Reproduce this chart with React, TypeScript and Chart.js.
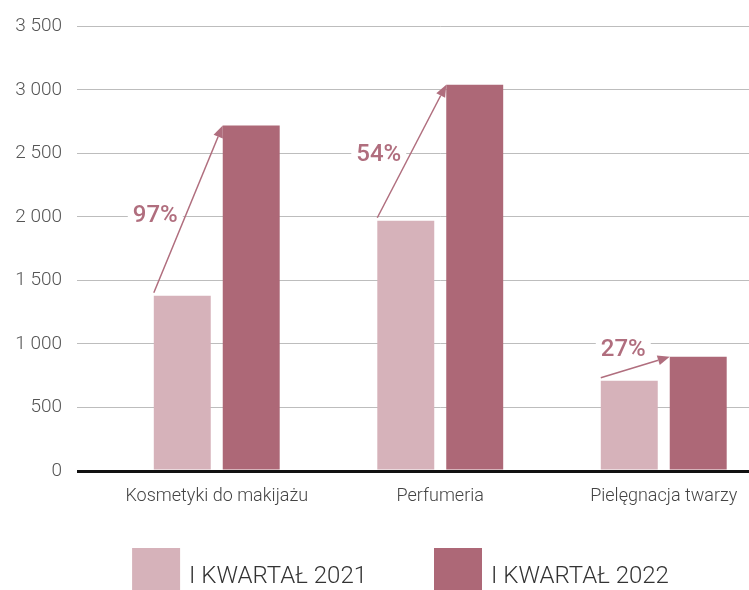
import React, { useEffect, useRef } from 'react';
import { Chart, registerables } from 'chart.js';

Chart.register(...registerables);

const categories = ['Kosmetyki do makijażu', 'Perfumeria', 'Pielęgnacja twarzy'];
const seriesNames = ['I KWARTAŁ 2021', 'I KWARTAŁ 2022'];
const values2021 = [1380, 1970, 710];
const values2022 = [2720, 3040, 900];
const growthLabels = ['97%', '54%', '27%'];
const yMin = 0;
const yMax = 3500;
const yStep = 500;

const LIGHT = '#d6b2ba';
const DARK = '#ad6877';
const ACCENT = '#b06e7e';
const FONT = 'Roboto, "Noto Sans", sans-serif';

const fmt = (v: number) => String(v).replace(/\B(?=(\d{3})+(?!\d))/g, ' ');

// label offsets relative to arrow midpoint (style only)
const labelOffsets = [
  [-33, 7],
  [-33, 4],
  [-12, -17],
];

const arrowPlugin = {
  id: 'growthArrows',
  afterDatasetsDraw(chart: any) {
    const m0 = chart.getDatasetMeta(0);
    const m1 = chart.getDatasetMeta(1);
    const ctx = chart.ctx as CanvasRenderingContext2D;
    ctx.save();
    growthLabels.forEach((lab, i) => {
      const a = m0.data[i];
      const b = m1.data[i];
      if (!a || !b) return;
      const sx = a.x - a.width / 2;
      const sy = a.y - 3;
      const ex = b.x - b.width / 2;
      const ey = b.y;
      const mx = (sx + ex) / 2 + labelOffsets[i][0];
      const my = (sy + ey) / 2 + labelOffsets[i][1];
      ctx.font = `500 24px ${FONT}`;
      const tw = ctx.measureText(lab).width;
      ctx.fillStyle = '#ffffff';
      ctx.fillRect(mx - tw / 2 - 5, my - 13, tw + 10, 26);
      ctx.fillStyle = ACCENT;
      ctx.textAlign = 'center';
      ctx.textBaseline = 'middle';
      ctx.fillText(lab, mx, my);
      const dx = ex - sx;
      const dy = ey - sy;
      const len = Math.sqrt(dx * dx + dy * dy);
      const ux = dx / len;
      const uy = dy / len;
      const headLen = 12;
      const headW = 5;
      const bx = ex - ux * headLen;
      const by = ey - uy * headLen;
      ctx.strokeStyle = ACCENT;
      ctx.lineWidth = 1.5;
      ctx.beginPath();
      ctx.moveTo(sx, sy);
      ctx.lineTo(bx, by);
      ctx.stroke();
      ctx.fillStyle = ACCENT;
      ctx.beginPath();
      ctx.moveTo(ex, ey);
      ctx.lineTo(bx - uy * headW, by + ux * headW);
      ctx.lineTo(bx + uy * headW, by - ux * headW);
      ctx.closePath();
      ctx.fill();
    });
    ctx.restore();
  },
};

// legend drawn from dataset labels/colours
const legendPlugin = {
  id: 'bigLegend',
  afterDraw(chart: any) {
    const ctx = chart.ctx as CanvasRenderingContext2D;
    const ds = chart.data.datasets;
    const boxW = 48;
    const boxH = 44;
    const textGap = 9;
    const itemGap = 67;
    const boxTop = 548;
    const centerX = 400.5;
    ctx.save();
    ctx.font = `300 24px ${FONT}`;
    const widths = ds.map((d: any) => boxW + textGap + ctx.measureText(d.label).width);
    const total = widths.reduce((s: number, w: number) => s + w, 0) + itemGap * (ds.length - 1);
    let x = centerX - total / 2;
    ds.forEach((d: any, i: number) => {
      ctx.fillStyle = d.backgroundColor;
      ctx.fillRect(x, boxTop, boxW, boxH);
      ctx.fillStyle = '#333';
      ctx.textAlign = 'left';
      ctx.textBaseline = 'middle';
      ctx.fillText(d.label, x + boxW + textGap, boxTop + 29);
      x += widths[i] + itemGap;
    });
    ctx.restore();
  },
};

export default function App() {
  const ref = useRef<HTMLCanvasElement | null>(null);
  useEffect(() => {
    if (!ref.current) return;
    const chart = new Chart(ref.current, {
      type: 'bar',
      data: {
        labels: categories,
        datasets: [
          { label: seriesNames[0], data: values2021, backgroundColor: LIGHT, categoryPercentage: 0.617, barPercentage: 0.826 },
          { label: seriesNames[1], data: values2022, backgroundColor: DARK, categoryPercentage: 0.617, barPercentage: 0.826 },
        ],
      },
      options: {
        responsive: false,
        animation: false,
        events: [],
        layout: { padding: { left: 0, right: 14.5, top: 26, bottom: 69 } },
        plugins: {
          tooltip: { enabled: false },
          legend: { display: false },
        },
        scales: {
          x: {
            grid: { display: false, drawTicks: false },
            border: { display: false },
            ticks: { color: '#444', padding: 15, font: { family: FONT, size: 18, weight: '300' } },
            afterFit: (s: any) => { s.height = 60; },
          },
          y: {
            min: yMin,
            max: yMax,
            border: { display: false },
            grid: {
              color: (c: any) => (c.tick && c.tick.value === 0 ? '#111111' : '#bdbdbd'),
              lineWidth: (c: any) => (c.tick && c.tick.value === 0 ? 3 : 1),
              tickLength: 28,
            },
            ticks: {
              stepSize: yStep,
              padding: 15,
              color: '#555',
              font: { family: FONT, size: 19, weight: '300' },
              callback: (v: any) => fmt(Number(v)),
            },
            afterFit: (s: any) => { s.width = 105; },
          },
        },
      },
      plugins: [arrowPlugin, legendPlugin],
    });
    return () => chart.destroy();
  }, []);
  return (
    <div style={{ position: 'fixed', left: 0, top: 0, width: 749, height: 590, overflow: 'hidden', background: '#fff' }}>
      <canvas ref={ref} width={790} height={600} style={{ display: 'block', width: 790, height: 600 }} />
    </div>
  );
}
